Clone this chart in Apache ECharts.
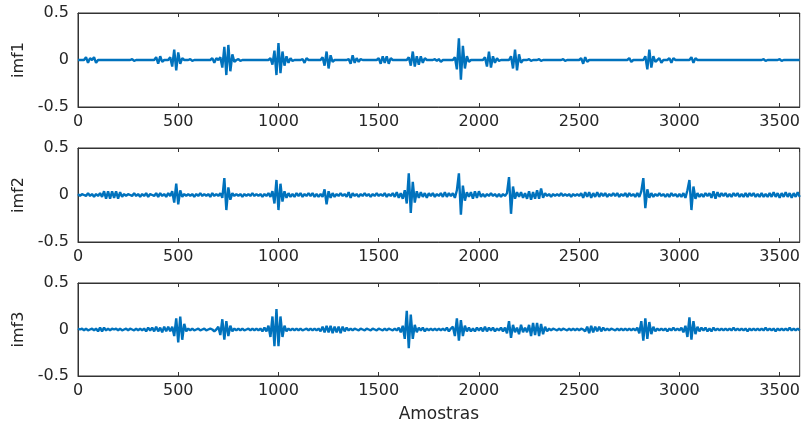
<!DOCTYPE html>
<html>
<head>
<meta charset="utf-8">
<script src="https://cdn.jsdelivr.net/npm/echarts@6/dist/echarts.min.js"></script>
<style>
  html, body { margin: 0; padding: 0; background: #fff; }
  #chart { width: 803px; height: 428px; }
</style>
</head>
<body>
<div id="chart"></div>
<script>
// Intrinsic mode functions of the signal, one value every `sampleStep` samples.
// Amplitudes are given in units of 0.01.
const sampleStep = 10;
const ampUnit = 0.01;

const seriesNames = ['imf1', 'imf2', 'imf3'];

const imf1 = [
  0,0,0,0,3,-3,2,0,3,-3,
  0,0,0,0,0,0,0,0,0,0,
  0,0,0,0,0,0,0,1,-1,0,
  0,0,0,0,0,0,0,0,0,3,
  -4,4,-2,0,0,0,3,-7,11,-11,
  8,-4,2,0,0,0,1,-1,0,0,
  0,0,0,0,0,0,0,2,-3,2,
  0,3,-8,14,-16,16,-12,6,-2,0,
  1,-1,0,0,0,0,0,0,0,0,
  0,0,0,0,0,0,2,-5,10,-16,
  18,-14,9,-6,4,-3,2,-1,0,0,
  0,0,1,-3,2,0,0,0,0,0,
  0,0,3,-6,9,-9,5,-2,0,0,
  0,0,0,0,0,1,-4,5,-3,2,
  -2,1,0,0,0,0,0,0,0,0,
  2,-4,4,-3,4,-4,2,0,0,0,
  0,0,0,0,0,3,-6,9,-7,4,
  -5,4,-3,2,0,0,0,0,1,-1,
  1,-2,0,0,0,0,0,0,3,-10,
  23,-21,15,-9,4,-2,0,0,0,0,
  0,0,0,3,-7,9,-8,4,-3,2,
  -1,0,0,0,0,0,4,-9,11,-11,
  6,-3,0,0,0,1,-1,0,0,0,
  1,-1,0,0,0,0,0,0,0,0,
  0,0,1,-1,0,0,0,0,0,0,
  0,2,-4,3,-2,0,0,0,0,0,
  0,0,0,0,0,0,0,0,0,0,
  0,0,0,0,0,2,-2,0,0,0,
  0,0,0,4,-10,11,-8,4,-2,0,
  2,-3,0,0,0,2,-3,2,0,0,
  0,0,0,0,0,0,3,-3,2,0,
  0,0,0,0,0,0,0,0,0,0,
  0,0,0,0,0,0,0,0,0,0,
  0,0,0,0,0,0,0,0,0,0,
  0,0,1,-1,0,0,0,0,0,0,
  1,-1,0,0,0,0,0,0,0,0,0
];

const imf2 = [
  1,-1,1,0,-1,2,-1,1,-2,1,
  -1,2,-2,4,-4,4,-4,4,-3,4,
  -4,3,-2,1,-1,1,0,-1,2,-1,
  1,-2,1,-1,2,-2,1,0,-1,2,
  -2,2,-1,1,-2,2,-1,4,-8,12,
  -10,5,-2,1,-1,1,-1,1,-2,1,
  -1,2,-1,1,-1,1,-2,2,-1,1,
  -1,2,-3,18,-16,8,-5,2,-1,1,
  -1,1,-2,1,-1,1,-1,2,-1,1,
  -1,1,-2,1,-1,2,-2,4,-9,16,
  -16,12,-7,4,-3,2,-2,1,-2,2,
  -1,2,-2,1,-1,2,-1,2,-2,1,
  -2,1,-2,6,-10,4,-3,2,-2,1,
  -1,2,-1,1,-2,3,-3,2,-1,1,
  -2,1,-1,2,-1,1,-2,1,-1,2,
  -1,1,-1,2,-2,1,-1,2,-2,3,
  -3,2,-4,5,-9,23,-19,14,-8,4,
  -3,3,-2,2,-3,2,-1,2,-2,1,
  -1,2,-2,3,-2,2,-1,2,-3,5,
  23,-21,10,-6,3,-2,3,-4,4,-3,
  4,-2,1,-2,1,-1,2,-1,1,-2,
  1,-2,1,-1,2,19,-20,9,-4,3,
  -2,3,-3,2,-4,4,-5,3,-4,5,
  -4,7,-3,2,-1,1,-2,1,-1,1,
  -1,2,-1,1,-1,1,-2,1,-1,1,
  -1,2,-3,3,-2,3,-3,2,-2,3,
  -2,2,-1,2,-2,1,-1,2,-1,2,
  -2,1,-1,2,-2,2,-1,1,-2,2,
  -2,4,18,-14,6,-3,2,-2,1,-1,
  2,-1,1,-2,1,-2,2,-1,1,-2,
  1,-2,2,-3,5,16,-16,9,-4,2,
  -2,1,-2,2,-1,2,-3,4,-4,3,
  -2,2,-1,2,-2,1,-2,2,-1,2,
  -2,1,-2,2,-2,2,-1,2,-2,1,
  -2,2,-2,1,-2,2,-2,3,-2,2,
  -3,2,-2,3,-2,2,-3,2,-2,3,-2
];

const imf3 = [
  1,0,1,-1,1,-1,0,1,-1,1,
  -2,2,-2,2,-1,1,-1,1,0,1,
  -1,1,-1,0,1,-1,1,0,-1,1,
  -1,1,-1,1,-2,2,-1,2,-2,3,
  -2,2,-3,3,-2,3,-2,3,-7,12,
  -14,14,-11,6,-2,1,-1,1,-1,0,
  1,-1,0,1,-1,0,1,0,-2,0,
  3,-6,11,-11,9,-7,4,-2,1,-1,
  1,-1,1,-1,0,1,-1,1,-1,1,
  -1,1,-2,2,-2,4,-8,14,-18,22,
  -18,14,-8,4,-2,1,-1,1,-1,1,
  -1,1,-1,0,1,-1,1,-1,1,-1,
  1,-2,3,-3,4,-3,4,-4,3,-3,
  3,-4,3,-2,2,-1,1,-1,1,0,
  -1,1,0,-1,1,0,-1,1,0,-1,
  1,0,-1,1,-1,1,0,-1,1,-1,
  2,-3,4,-10,20,-20,16,-10,5,-3,
  2,-1,2,-2,1,-1,1,-1,1,-1,
  1,-1,1,-1,2,-2,1,3,-7,12,
  -12,10,-7,4,-2,2,-2,1,-2,2,
  -1,2,-2,3,-2,2,-1,2,-2,1,
  -1,2,-2,2,-4,9,-9,5,-3,2,
  -5,5,-3,2,-3,5,-7,7,-6,7,
  -7,6,-5,3,-2,1,-1,1,0,-1,
  1,-1,1,0,-1,1,-1,1,-1,1,
  -1,1,0,-2,3,-4,4,-3,3,-2,
  3,-2,2,-1,1,-1,1,0,-1,1,
  -1,1,-1,1,-1,1,-1,1,-1,2,
  -4,9,-12,12,-10,8,-5,3,-2,1,
  -1,1,-1,1,-2,1,-1,2,-1,1,
  -1,2,-3,4,-8,13,-11,9,-5,3,
  -2,2,-1,2,-2,1,-2,2,-1,1,
  -1,1,-1,1,-1,1,-1,2,-1,1,
  -1,1,-1,1,-2,1,-1,1,-1,1,
  -1,1,-1,2,-1,1,-1,1,-2,1,
  -1,1,-1,1,-1,2,-1,1,-1,1,-1
];

const xMin = 0, xMax = 3600, xInterval = 500;
const yMin = -0.5, yMax = 0.5, yInterval = 0.5;
const xTitle = 'Amostras';

const signals = [imf1, imf2, imf3];

const textColor = '#262626';
const axisColor = '#333333';
const lineColor = '#0072BD';
const fontFamily = '"DejaVu Sans", sans-serif';

const gridBoxes = [
  { top: 13, height: 94 },
  { top: 148, height: 94 },
  { top: 283, height: 93 }
];

const grids = gridBoxes.map(b => ({
  left: 78, width: 724, top: b.top, height: b.height,
  show: true, borderColor: axisColor, borderWidth: 1, backgroundColor: '#fff'
}));

const xAxes = [];
const yAxes = [];
const series = [];

signals.forEach((sig, g) => {
  // bottom axis with labels
  xAxes.push({
    type: 'value', gridIndex: g, position: 'bottom',
    min: xMin, max: xMax, interval: xInterval,
    axisLine: { show: true, onZero: false, lineStyle: { color: axisColor, width: 1 } },
    axisTick: { show: true, inside: true, length: 4, lineStyle: { color: axisColor } },
    axisLabel: {
      color: textColor, fontSize: 16, fontFamily, margin: 7,
      showMaxLabel: false,
      formatter: v => String(v)
    },
    splitLine: { show: false },
    name: g === signals.length - 1 ? xTitle : '',
    nameLocation: 'middle', nameGap: 30,
    nameTextStyle: { color: textColor, fontSize: 17, fontFamily }
  });
  // top axis, ticks only
  xAxes.push({
    type: 'value', gridIndex: g, position: 'top',
    min: xMin, max: xMax, interval: xInterval,
    axisLine: { show: true, onZero: false, lineStyle: { color: axisColor, width: 1 } },
    axisTick: { show: true, inside: true, length: 4, lineStyle: { color: axisColor } },
    axisLabel: { show: false },
    splitLine: { show: false }
  });
  yAxes.push({
    type: 'value', gridIndex: g, position: 'left',
    min: yMin, max: yMax, interval: yInterval,
    axisLine: { show: true, onZero: false, lineStyle: { color: axisColor, width: 1 } },
    axisTick: { show: true, inside: true, length: 4, lineStyle: { color: axisColor } },
    axisLabel: {
      color: textColor, fontSize: 16, fontFamily, margin: 9,
      formatter: v => String(v)
    },
    splitLine: { show: false },
    name: seriesNames[g], nameLocation: 'middle', nameGap: 43, nameRotate: 90,
    nameTextStyle: { color: textColor, fontSize: 16, fontFamily }
  });
  series.push({
    type: 'line', name: seriesNames[g],
    xAxisIndex: g * 2, yAxisIndex: g,
    data: sig.map((v, i) => [i * sampleStep, v * ampUnit]),
    showSymbol: false, symbol: 'none', animation: false,
    lineStyle: { color: lineColor, width: 2.4 },
    clip: true
  });
});

const chart = echarts.init(document.getElementById('chart'), null, { renderer: 'canvas' });
chart.setOption({
  backgroundColor: '#ffffff',
  animation: false,
  grid: grids,
  xAxis: xAxes,
  yAxis: yAxes,
  series: series
});
</script>
</body>
</html>
